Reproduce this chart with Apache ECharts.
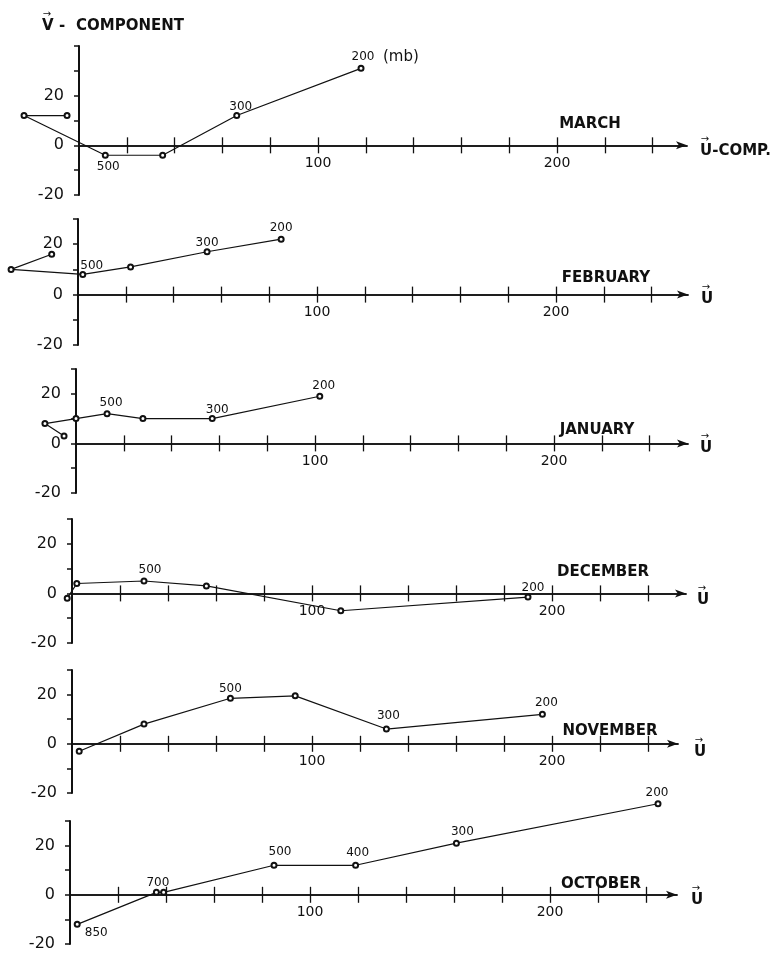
<!DOCTYPE html>
<html><head><meta charset="utf-8">
<script src="https://cdn.jsdelivr.net/npm/echarts@6/dist/echarts.min.js"></script>
<style>html,body{margin:0;padding:0;background:#fff}#c{width:778px;height:967px}</style>
</head><body><div id="c"></div>
<script>
// ---------- DATA ----------
const months = ['MARCH', 'FEBRUARY', 'JANUARY', 'DECEMBER', 'NOVEMBER', 'OCTOBER'];

const marchU = [-5, -23, 11, 35, 66, 118];
const marchV = [12, 12, -4, -4, 12, 31];
const marchP = ['', '', '500', '', '300', '200'];

const febU = [-11, -28, 2, 22, 54, 85];
const febV = [16, 10, 8, 11, 17, 22];
const febP = ['', '', '500', '', '300', '200'];

const janU = [-5, -13, 0, 13, 28, 57, 102];
const janV = [3, 8, 10, 12, 10, 10, 19];
const janP = ['', '', '', '500', '', '300', '200'];

const decU = [-2, 2, 30, 56, 112, 190];
const decV = [-2, 4, 5, 3, -7, -1.5];
const decP = ['', '', '500', '', '', '200'];

const novU = [3, 30, 66, 93, 131, 196];
const novV = [-3, 8, 18.5, 19.5, 6, 12];
const novP = ['', '', '500', '', '300', '200'];

const octU = [3, 36, 39, 85, 119, 161, 245];
const octV = [-12, 1, 1, 12, 12, 21, 37];
const octP = ['850', '700', '', '500', '400', '300', '200'];

const xTickValues = [20, 40, 60, 80, 100, 120, 140, 160, 180, 200, 220, 240];
const xLabelValues = [100, 200];
const yTickValues = [-20, -10, 0, 10, 20, 30];
const yTickValuesMarch = [-20, -10, 0, 10, 20, 30, 40];
const yLabelValues = [-20, 0, 20];

const panelU = [marchU, febU, janU, decU, novU, octU];
const panelV = [marchV, febV, janV, decV, novV, octV];
const panelP = [marchP, febP, janP, decP, novP, octP];

// ---------- LAYOUT / STYLE ----------
const layout = [
  {left: 79, top: 46, bot: 195, ymax: 40, pxu: 2.39, end: 687, month: [590, 124], u: [700, 151], ulabel: 'U-COMP.'},
  {left: 78, top: 219, bot: 345, ymax: 30, pxu: 2.39, end: 688, month: [606, 278], u: [701, 299], ulabel: 'U'},
  {left: 76, top: 369, bot: 493, ymax: 30, pxu: 2.39, end: 688, month: [597, 430], u: [700, 448], ulabel: 'U'},
  {left: 72, top: 519, bot: 643, ymax: 30, pxu: 2.40, end: 686, month: [603, 572], u: [697, 600], ulabel: 'U'},
  {left: 72, top: 670, bot: 793, ymax: 30, pxu: 2.40, end: 678, month: [610, 731], u: [694, 752], ulabel: 'U'},
  {left: 70, top: 821, bot: 944, ymax: 30, pxu: 2.40, end: 677, month: [601, 884], u: [691, 900], ulabel: 'U'}
];
const labelOffsets = [
  {2: [3, 12], 4: [4, -9], 5: [2, -11]},
  {2: [9, -9], 4: [0, -9], 5: [0, -11]},
  {3: [4, -11], 5: [5, -9], 6: [4, -10]},
  {2: [6, -11], 5: [5, -9]},
  {2: [0, -9], 4: [2, -13], 5: [4, -11]},
  {0: [19, 9], 1: [1.5, -9], 3: [6, -13], 4: [2, -12], 5: [6, -11], 6: [-1, -11]}
];
const DATA_UMIN = -29, DATA_VMAX = 50;

const INK = '#111';
const FONT = 'DejaVu Sans';

const grids = [], xAxes = [], yAxes = [], series = [], graphics = [];

layout.forEach((L, i) => {
  const width = L.end - L.left;
  const height = L.bot - L.top;
  const xmax = width / L.pxu;
  const pyu = height / (L.ymax + 20);
  const zeroOffset = -(20 * pyu);

  // visible axes grid
  const gA = grids.length;
  grids.push({left: L.left, top: L.top, width: width, height: height});
  xAxes.push({
    type: 'value', gridIndex: gA, min: 0, max: xmax, position: 'bottom', offset: zeroOffset,
    axisLine: {show: true, onZero: false, symbol: ['none', 'arrow'], symbolSize: [6, 11],
      lineStyle: {color: INK, width: 1.5}},
    axisTick: {show: true, inside: false, length: 8, customValues: xTickValues,
      lineStyle: {color: INK, width: 1.3}},
    axisLabel: {show: true, customValues: xLabelValues, margin: 11, fontSize: 14,
      fontFamily: FONT, color: INK,
      formatter: v => xLabelValues.indexOf(v) >= 0 ? String(v) : ''},
    splitLine: {show: false}
  });
  xAxes.push({
    type: 'value', gridIndex: gA, min: 0, max: xmax, position: 'bottom', offset: zeroOffset,
    axisLine: {show: true, onZero: false, lineStyle: {color: INK, width: 1.5}},
    axisTick: {show: true, inside: true, length: 8, customValues: xTickValues,
      lineStyle: {color: INK, width: 1.3}},
    axisLabel: {show: false},
    splitLine: {show: false}
  });
  yAxes.push({
    type: 'value', gridIndex: gA, min: -20, max: L.ymax, interval: 10,
    axisLine: {show: true, onZero: false, lineStyle: {color: INK, width: 2}},
    axisTick: {show: true, inside: false, length: 5,
      customValues: i === 0 ? yTickValuesMarch : yTickValues,
      lineStyle: {color: INK, width: 1.5}},
    axisLabel: {show: true, customValues: yLabelValues, margin: 15, fontSize: 16,
      fontFamily: FONT, color: INK,
      formatter: v => yLabelValues.indexOf(v) >= 0 ? String(v) : ''},
    splitLine: {show: false}
  });

  // data grid (same scales, extended to the left/up, hidden axes)
  const gB = grids.length;
  grids.push({left: L.left + DATA_UMIN * L.pxu, top: L.top - (DATA_VMAX - L.ymax) * pyu,
    width: width - DATA_UMIN * L.pxu, height: height + (DATA_VMAX - L.ymax) * pyu});
  const xi = xAxes.length;
  xAxes.push({type: 'value', gridIndex: gB, min: DATA_UMIN, max: xmax, show: false});
  const yi = yAxes.length;
  yAxes.push({type: 'value', gridIndex: gB, min: -20, max: DATA_VMAX, show: false});

  const U = panelU[i], V = panelV[i], P = panelP[i];
  const data = U.map((u, k) => {
    const off = labelOffsets[i][k];
    return {
      value: [u, V[k]],
      label: {show: !!P[k], formatter: P[k], position: 'inside', offset: off || [0, 0]}
    };
  });
  series.push({
    type: 'line', xAxisIndex: xi, yAxisIndex: yi, data: data, clip: false,
    symbol: 'emptyCircle', symbolSize: 5, showSymbol: true,
    lineStyle: {color: INK, width: 1.2},
    itemStyle: {color: INK, borderWidth: 1.2, borderColor: INK},
    label: {fontSize: 12, fontFamily: FONT, color: INK},
    emphasis: {disabled: true}, animation: false, z: 5
  });

  graphics.push({type: 'text', x: L.month[0], y: L.month[1],
    style: {text: months[i], font: 'bold 15px "DejaVu Sans"', fill: INK, align: 'center', verticalAlign: 'middle'}});
  graphics.push({type: 'text', x: L.u[0], y: L.u[1],
    style: {text: L.ulabel, font: 'bold 15px "DejaVu Sans"', fill: INK, align: 'left', verticalAlign: 'middle'}});
  graphics.push({type: 'text', x: L.u[0] + 5, y: L.u[1] - 12,
    style: {text: '→', font: '10px "DejaVu Sans"', fill: INK, align: 'center', verticalAlign: 'middle'}});
});

// top title
graphics.push({type: 'text', x: 42, y: 26, style: {text: 'V', font: 'bold 15px "DejaVu Sans"', fill: INK, align: 'left', verticalAlign: 'middle'}});
graphics.push({type: 'text', x: 47, y: 14, style: {text: '→', font: '10px "DejaVu Sans"', fill: INK, align: 'center', verticalAlign: 'middle'}});
graphics.push({type: 'text', x: 59, y: 26, style: {text: '-', font: 'bold 15px "DejaVu Sans"', fill: INK, align: 'left', verticalAlign: 'middle'}});
graphics.push({type: 'text', x: 76, y: 26, style: {text: 'COMPONENT', font: 'bold 15px "DejaVu Sans"', fill: INK, align: 'left', verticalAlign: 'middle'}});
graphics.push({type: 'text', x: 383, y: 57, style: {text: '(mb)', font: '15px "DejaVu Sans"', fill: INK, align: 'left', verticalAlign: 'middle'}});

const chart = echarts.init(document.getElementById('c'), null, {renderer: 'canvas'});
chart.setOption({
  backgroundColor: '#fff',
  animation: false,
  grid: grids, xAxis: xAxes, yAxis: yAxes, series: series, graphic: graphics
});
</script></body></html>
